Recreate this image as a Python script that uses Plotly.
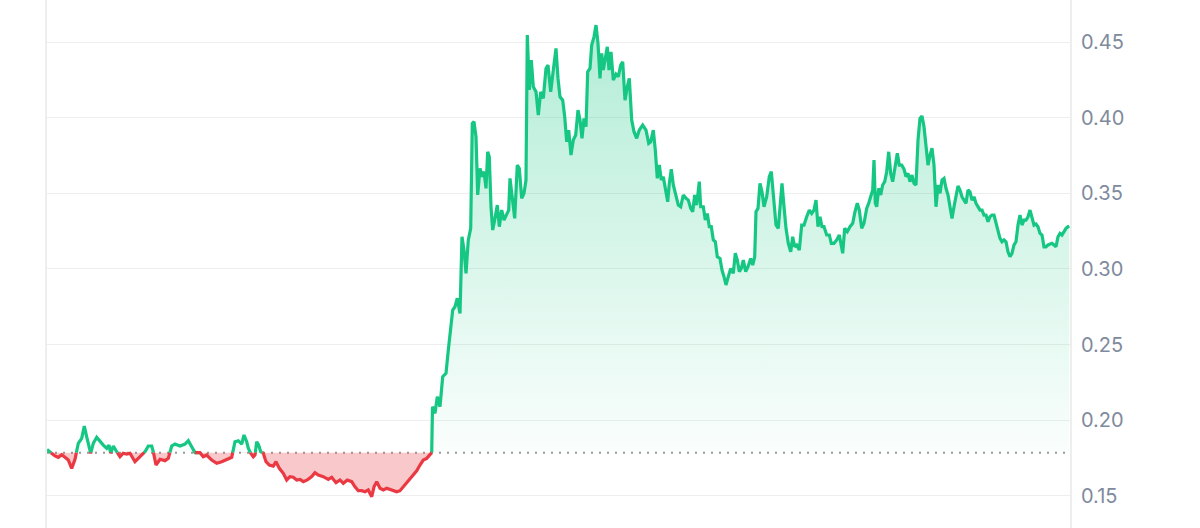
import plotly.graph_objects as go

# time (arbitrary units, evenly spaced hours-ish) and price
t = [0, 4.7, 8, 11.3, 14.7, 18, 21.3, 24.7, 28, 31.3, 34.7, 37.3, 39.7, 43.7, 46.3, 49.7, 53, 56.3, 59.7, 62,
     63.7, 66.3, 69.7, 73, 76.3, 79.7, 83, 88, 93, 98, 101.3, 104.7, 106.3, 109, 113, 118, 121.3, 124.7, 128, 133,
     138, 141.3, 144.7, 148, 153, 156.3, 159.7, 164.7, 169.7, 174.7, 179.7, 184.7, 188, 191.3, 194.7, 197, 199.7, 201.3, 203.7, 206.3,
     208, 209.7, 211.7, 213.7, 216.3, 219, 222.3, 226.3, 229, 232.3, 236.3, 239.7, 243, 246.3, 249.7, 253, 256.3, 260.3, 264.7, 268,
     271.3, 276.3, 281.3, 284.7, 289, 293, 296.3, 300.3, 304.7, 308, 311.3, 314.7, 318, 321.3, 324.7, 327, 329.7, 333, 336.3, 339.7,
     343, 346.3, 349.7, 353, 356.3, 359.7, 363, 366.3, 369.7, 373, 376.3, 379.7, 383, 384.7, 385.5, 386.3, 388, 390.3, 393, 395.7,
     399, 401.3, 403.7, 405.7, 408, 410.3, 413, 415, 417, 419, 421.3, 423.7, 425.3, 427, 429, 430.7, 433, 435, 437, 439,
     440.7, 442.3, 444, 445.7, 448, 450.3, 452.3, 454.7, 457, 459.7, 461.7, 463, 465.3, 467.7, 470.3, 472.3, 474.7, 477, 479, 480.3,
     482.3, 484.3, 486.3, 489, 491.3, 493.7, 496.3, 499, 501, 503.7, 506.3, 509, 511, 513, 515.7, 517.7, 519.7, 521.7, 524, 526.3,
     528.7, 531, 533, 535, 537, 539, 540.7, 543, 544.7, 547, 549, 551, 553, 554.7, 556.3, 558, 560.3, 562, 564, 566.3,
     569, 571.3, 573.7, 575.7, 578, 580.3, 582.3, 584.7, 587, 589.7, 592.3, 595.7, 599, 601.7, 603.7, 606.3, 608.3, 610.3, 612.3, 614.3,
     616.3, 618.3, 620.7, 622.3, 624.3, 626.3, 629, 631.3, 633.7, 636.3, 639, 641.3, 643.7, 645.7, 647.7, 649.7, 652.3, 653.7, 656.3, 658.3,
     660.3, 662.3, 664.3, 666.3, 668.3, 670.3, 673, 675, 677, 679, 681.3, 683.7, 686.3, 688.3, 690.3, 692.3, 694.3, 696.3, 698.7, 701,
     703.7, 705.7, 707.7, 709, 711, 713, 715, 717, 719.7, 722.3, 724.3, 727, 729, 731.3, 733, 735, 737, 739, 741.3, 743.7,
     745.7, 747.7, 749.7, 752.3, 754.7, 757, 759.7, 762.3, 764.7, 767, 769, 771, 773, 775, 777, 779.7, 782.3, 784.3, 787, 789.7,
     792.3, 794.3, 795.7, 797.7, 800.3, 803, 805.7, 808, 810.3, 812.3, 814.7, 817, 819.7, 821.7, 823.7, 825.7, 827, 828.3, 829.7, 831.7,
     833.7, 835.7, 837.7, 839.7, 841.7, 843.7, 845.7, 847.7, 850.3, 852.3, 854.7, 857, 859, 861, 863, 865, 867, 869, 871, 873,
     875, 877, 879, 881, 883, 885, 887, 889, 891, 893, 895, 897, 899, 901, 903, 905, 907, 909, 911, 913,
     915, 917, 919, 921, 923, 925, 927, 929, 931, 933, 935, 937, 939, 941, 943, 945, 947, 949, 951, 953,
     955, 957, 959, 961, 963, 965, 967, 969, 971, 973, 975, 977, 979, 981, 983, 985, 987, 989, 991, 993,
     995, 997, 999, 1001, 1003, 1005, 1007, 1009, 1011, 1013, 1015, 1017, 1019, 1021, 1022.3]

price = [0.1805, 0.1780, 0.1762, 0.1753, 0.1770, 0.1753, 0.1735, 0.1680, 0.1740, 0.1846, 0.1879, 0.1960, 0.1889, 0.1780, 0.1846, 0.1885, 0.1856, 0.1834, 0.1813, 0.1834,
         0.1780, 0.1828, 0.1790, 0.1757, 0.1780, 0.1775, 0.1780, 0.1724, 0.1757, 0.1790, 0.1828, 0.1828, 0.1790, 0.1702, 0.1740, 0.1731, 0.1746, 0.1828, 0.1841, 0.1828,
         0.1841, 0.1863, 0.1823, 0.1784, 0.1784, 0.1757, 0.1768, 0.1735, 0.1713, 0.1724, 0.1740, 0.1753, 0.1856, 0.1863, 0.1841, 0.1901, 0.1856, 0.1813, 0.1780, 0.1757,
         0.1768, 0.1856, 0.1834, 0.1790, 0.1780, 0.1724, 0.1702, 0.1695, 0.1724, 0.1680, 0.1647, 0.1603, 0.1625, 0.1621, 0.1603, 0.1607, 0.1592, 0.1603, 0.1625, 0.1651,
         0.1636, 0.1625, 0.1607, 0.1621, 0.1585, 0.1603, 0.1581, 0.1603, 0.1592, 0.1558, 0.1532, 0.1532, 0.1525, 0.1537, 0.1492, 0.1558, 0.1592, 0.1548, 0.1537, 0.1548,
         0.1541, 0.1537, 0.1525, 0.1532, 0.1558, 0.1581, 0.1607, 0.1636, 0.1664, 0.1702, 0.1735, 0.1746, 0.1768, 0.1780, 0.2088, 0.2077, 0.2044, 0.2154, 0.2088, 0.2287,
         0.2309, 0.2463, 0.2596, 0.2728, 0.2750, 0.2806, 0.2706, 0.3213, 0.3125, 0.2971, 0.3192, 0.3269, 0.3964, 0.3975, 0.3875, 0.3490, 0.3666, 0.3611, 0.3644, 0.3534,
         0.3776, 0.3743, 0.3412, 0.3258, 0.3335, 0.3423, 0.3280, 0.3390, 0.3324, 0.3357, 0.3390, 0.3600, 0.3456, 0.3335, 0.3688, 0.3666, 0.3468, 0.3501, 0.3589, 0.4549,
         0.4185, 0.4383, 0.4206, 0.4173, 0.4019, 0.4173, 0.4130, 0.4328, 0.4350, 0.4173, 0.4317, 0.4461, 0.4262, 0.4140, 0.4118, 0.4008, 0.3842, 0.3920, 0.3754, 0.3854,
         0.3887, 0.4052, 0.3986, 0.3865, 0.3997, 0.3942, 0.4306, 0.4328, 0.4483, 0.4537, 0.4615, 0.4494, 0.4262, 0.4428, 0.4317, 0.4383, 0.4471, 0.4317, 0.4438, 0.4251,
         0.4290, 0.4273, 0.4350, 0.4372, 0.4118, 0.4206, 0.4262, 0.3986, 0.3909, 0.3865, 0.3920, 0.3953, 0.3920, 0.3832, 0.3842, 0.3920, 0.3787, 0.3600, 0.3688, 0.3589,
         0.3611, 0.3534, 0.3445, 0.3567, 0.3660, 0.3556, 0.3490, 0.3423, 0.3412, 0.3490, 0.3468, 0.3456, 0.3401, 0.3379, 0.3490, 0.3423, 0.3578, 0.3412, 0.3412, 0.3324,
         0.3368, 0.3280, 0.3280, 0.3192, 0.3181, 0.3081, 0.3070, 0.2993, 0.2949, 0.2894, 0.2949, 0.3004, 0.2971, 0.3104, 0.3059, 0.2982, 0.3004, 0.3059, 0.2982, 0.3015,
         0.3070, 0.3026, 0.3081, 0.3379, 0.3401, 0.3567, 0.3511, 0.3412, 0.3478, 0.3611, 0.3644, 0.3456, 0.3291, 0.3269, 0.3390, 0.3567, 0.3412, 0.3269, 0.3170, 0.3114,
         0.3213, 0.3147, 0.3159, 0.3125, 0.3291, 0.3291, 0.3346, 0.3390, 0.3368, 0.3390, 0.3456, 0.3280, 0.3346, 0.3280, 0.3280, 0.3225, 0.3225, 0.3170, 0.3170, 0.3192,
         0.3225, 0.3147, 0.3104, 0.3269, 0.3247, 0.3280, 0.3302, 0.3379, 0.3435, 0.3390, 0.3269, 0.3302, 0.3401, 0.3435, 0.3490, 0.3523, 0.3721, 0.3435, 0.3412, 0.3534,
         0.3490, 0.3556, 0.3578, 0.3644, 0.3776, 0.3633, 0.3578, 0.3655, 0.3766, 0.3688, 0.3688, 0.3661, 0.3611, 0.3633, 0.3578, 0.3622, 0.3567, 0.3556, 0.3854, 0.3997,
         0.4012, 0.3942, 0.3809, 0.3688, 0.3754, 0.3799, 0.3688, 0.3412, 0.3556, 0.3501, 0.3589, 0.3600, 0.3534, 0.3490, 0.3412, 0.3335, 0.3412, 0.3490, 0.3549, 0.3523,
         0.3478, 0.3456, 0.3435, 0.3523, 0.3511, 0.3456, 0.3478, 0.3435, 0.3412, 0.3390, 0.3390, 0.3357, 0.3357, 0.3313, 0.3346, 0.3357, 0.3357, 0.3302, 0.3269, 0.3203,
         0.3180, 0.3192, 0.3180, 0.3114, 0.3081, 0.3104, 0.3159, 0.3180, 0.3291, 0.3357, 0.3291, 0.3324, 0.3324, 0.3346, 0.3390, 0.3335, 0.3291, 0.3298, 0.3280, 0.3236,
         0.3225, 0.3147, 0.3147, 0.3159, 0.3165, 0.3170, 0.3159, 0.3147, 0.3213, 0.3236, 0.3225, 0.3247, 0.3269, 0.3280, 0.3284]

baseline = 0.1784
y_ticks = [0.15, 0.20, 0.25, 0.30, 0.35, 0.40, 0.45]
y_tick_labels = ["0.15", "0.20", "0.25", "0.30", "0.35", "0.40", "0.45"]

GREEN = "#16c784"
RED = "#ea3943"

# insert baseline crossings so the colours split cleanly
xs, ys = [t[0]], [price[0]]
for i in range(1, len(t)):
    x0, y0, x1, y1 = t[i - 1], price[i - 1], t[i], price[i]
    if (y0 - baseline) * (y1 - baseline) < 0:
        xc = x0 + (baseline - y0) * (x1 - x0) / (y1 - y0)
        xs.append(xc)
        ys.append(baseline)
    xs.append(x1)
    ys.append(y1)

up = [max(v, baseline) for v in ys]
dn = [min(v, baseline) for v in ys]
green_line = [v if v >= baseline else None for v in ys]
red_line = [v if v <= baseline else None for v in ys]
base_arr = [baseline] * len(xs)

fig = go.Figure()
fig.add_trace(go.Scatter(x=xs, y=base_arr, mode="lines", line=dict(width=0), hoverinfo="skip", showlegend=False))
fig.add_trace(go.Scatter(
    x=xs, y=up, mode="lines", line=dict(width=0), fill="tonexty",
    fillgradient=dict(type="vertical", start=baseline, stop=max(price),
                      colorscale=[[0, "rgba(22,199,132,0.02)"], [1, "rgba(22,199,132,0.33)"]]),
    hoverinfo="skip", showlegend=False))
fig.add_trace(go.Scatter(x=xs, y=base_arr, mode="lines", line=dict(width=0), hoverinfo="skip", showlegend=False))
fig.add_trace(go.Scatter(x=xs, y=dn, mode="lines", line=dict(width=0), fill="tonexty",
                         fillcolor="rgba(234,57,67,0.28)", hoverinfo="skip", showlegend=False))
fig.add_trace(go.Scatter(x=xs, y=green_line, mode="lines", connectgaps=False,
                         line=dict(color=GREEN, width=3.2), hoverinfo="skip", showlegend=False))
fig.add_trace(go.Scatter(x=xs, y=red_line, mode="lines", connectgaps=False,
                         line=dict(color=RED, width=3.2), hoverinfo="skip", showlegend=False))

fig.add_shape(type="line", xref="x", yref="y", x0=0, x1=1023, y0=baseline, y1=baseline,
              line=dict(color="#999999", width=2, dash="2px,6px"), layer="below")

fig.update_layout(
    width=1200, height=528,
    margin=dict(l=47, r=130, t=0, b=0),
    paper_bgcolor="white", plot_bgcolor="white",
    hovermode=False, showlegend=False,
    xaxis=dict(range=[0, 1023], showgrid=False, zeroline=False, showticklabels=False, ticks=""),
    yaxis=dict(range=[0.1285, 0.4781], side="right", tickvals=y_ticks, ticktext=y_tick_labels,
               showgrid=True, gridcolor="#eeeeee", gridwidth=1, zeroline=False,
               showline=True, linecolor="#eeeeee", linewidth=2, mirror=True,
               ticks="", ticklabelstandoff=5,
               tickfont=dict(family="Inter", size=20, color="#808a9d")),
)

fig.write_html("out.html", config={"displayModeBar": False},
               post_script="document.body.style.margin='0';document.body.style.padding='0';")
